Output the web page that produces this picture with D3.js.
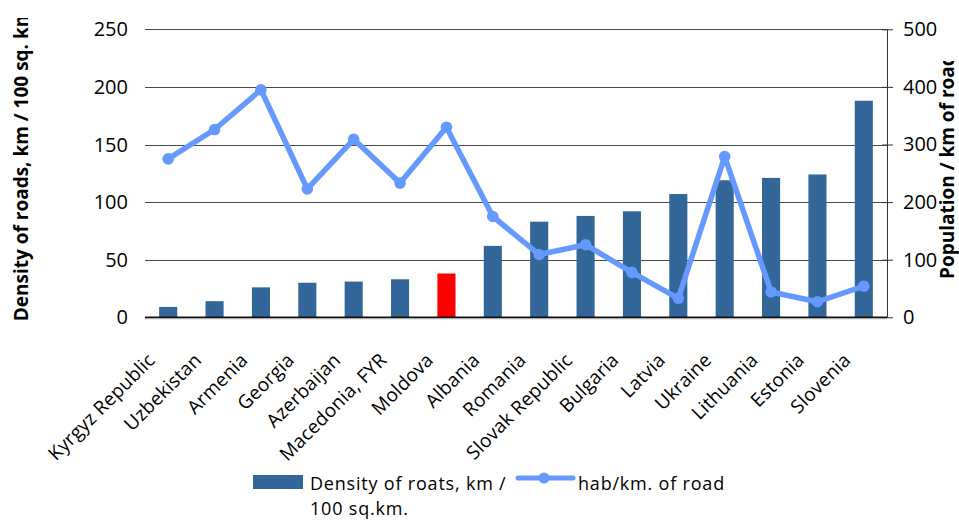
<!DOCTYPE html>
<html>
<head>
<meta charset="utf-8">
<script src="https://cdn.jsdelivr.net/npm/d3@7"></script>
<style>
  body { margin: 0; background: #fff; }
  svg { display: block; font-family: "Open Sans", sans-serif; }
</style>
</head>
<body>
<div id="container"></div>
<script>
const countries = ['Kyrgyz Republic', 'Uzbekistan', 'Armenia', 'Georgia', 'Azerbaijan',
  'Macedonia, FYR', 'Moldova', 'Albania', 'Romania', 'Slovak Republic', 'Bulgaria',
  'Latvia', 'Ukraine', 'Lithuania', 'Estonia', 'Slovenia']
const density = [9, 14, 26, 30, 31, 33, 38, 62, 83, 88, 92, 107, 119, 121, 124, 188]
const habPerKm = [275, 326, 395, 223, 309, 233, 330, 175, 109, 126, 78, 33, 279, 44, 27, 54]
const leftTicks = [0, 50, 100, 150, 200, 250]
const rightTicks = [0, 100, 200, 300, 400, 500]
const highlighted = 'Moldova'

const width = 959
const height = 520
const plotLeft = 145
const plotRight = 887
const plotTop = 29.3
const plotBottom = 317.3

const svg = d3.select('#container').append('svg')
  .attr('width', width)
  .attr('height', height)

const x = d3.scaleBand()
  .domain(countries)
  .range([plotLeft, plotRight])
  .paddingInner(0.61)
  .paddingOuter(0.305)

const xc = d => x(d) + x.bandwidth() / 2

const yL = d3.scaleLinear().domain([0, 250]).range([plotBottom, plotTop])
const yR = d3.scaleLinear().domain([0, 500]).range([plotBottom, plotTop])

// gridlines
svg.append('g')
  .selectAll('line')
  .data(leftTicks.filter(t => t > 0))
  .enter()
  .append('line')
  .attr('x1', plotLeft)
  .attr('x2', plotRight)
  .attr('y1', d => Math.round(yL(d)) + 0.5)
  .attr('y2', d => Math.round(yL(d)) + 0.5)
  .attr('stroke', '#4a4a4a')
  .attr('stroke-width', 1)

// left tick labels
svg.append('g')
  .selectAll('text')
  .data(leftTicks)
  .enter()
  .append('text')
  .attr('x', 128)
  .attr('y', d => yL(d))
  .attr('dy', '0.35em')
  .attr('text-anchor', 'end')
  .attr('font-size', 20)
  .attr('fill', '#000')
  .text(d => d)

// right axis
const axisR = d3.axisRight(yR).tickValues(rightTicks).tickSize(6).tickPadding(10)
const gR = svg.append('g')
  .attr('transform', `translate(${plotRight},0)`)
  .call(axisR)
gR.select('.domain').attr('stroke', '#333').attr('d', `M0.5,${plotTop}V${plotBottom}`)
gR.selectAll('.tick line').attr('x1', -5).attr('stroke', '#333')
gR.selectAll('.tick text').attr('font-size', 20).attr('font-family', '"Open Sans", sans-serif').attr('fill', '#000')

// bars
svg.append('g')
  .selectAll('rect')
  .data(countries)
  .enter()
  .append('rect')
  .attr('x', d => x(d))
  .attr('y', (d, i) => yL(density[i]))
  .attr('width', x.bandwidth())
  .attr('height', (d, i) => plotBottom - yL(density[i]))
  .attr('fill', d => d === highlighted ? '#ff0000' : '#336699')

// baseline
svg.append('line')
  .attr('x1', plotLeft)
  .attr('x2', plotRight)
  .attr('y1', plotBottom + 1)
  .attr('y2', plotBottom + 1)
  .attr('stroke', '#aaa')
  .attr('stroke-width', 2)
svg.append('line')
  .attr('x1', plotLeft)
  .attr('x2', plotRight)
  .attr('y1', plotBottom)
  .attr('y2', plotBottom)
  .attr('stroke', '#111')
  .attr('stroke-width', 1.6)

// line series
const line = d3.line()
  .x(d => xc(d.c))
  .y(d => yR(d.v))
const pts = countries.map((c, i) => ({ c: c, v: habPerKm[i] }))

svg.append('path')
  .datum(pts)
  .attr('d', line)
  .attr('fill', 'none')
  .attr('stroke', '#6699ff')
  .attr('stroke-width', 5.5)
  .attr('stroke-linejoin', 'round')

svg.append('g')
  .selectAll('circle')
  .data(pts)
  .enter()
  .append('circle')
  .attr('cx', d => xc(d.c))
  .attr('cy', d => yR(d.v))
  .attr('r', 5.8)
  .attr('fill', '#6699ff')

// x labels
svg.append('g')
  .selectAll('text')
  .data(countries)
  .enter()
  .append('text')
  .attr('transform', d => `translate(${xc(d) - 12},${plotBottom + 44}) rotate(-45)`)
  .attr('text-anchor', 'end')
  .attr('font-size', 19)
  .attr('letter-spacing', 0.2)
  .attr('fill', '#000')
  .text(d => d)

// axis titles (clipped like the original)
const defs = svg.append('defs')
defs.append('clipPath').attr('id', 'clipL')
  .append('rect').attr('x', 0).attr('y', 18).attr('width', 60).attr('height', 400)
defs.append('clipPath').attr('id', 'clipR')
  .append('rect').attr('x', 900).attr('y', 61).attr('width', 59).attr('height', 400)

svg.append('g').attr('clip-path', 'url(#clipL)')
  .append('text')
  .attr('transform', `translate(28,${plotBottom + 4}) rotate(-90)`)
  .attr('font-size', 19)
  .attr('font-weight', 'bold')
  .attr('fill', '#000')
  .text('Density of roads, km / 100 sq. km')

svg.append('g').attr('clip-path', 'url(#clipR)')
  .append('text')
  .attr('transform', `translate(954,279) rotate(-90)`)
  .attr('font-size', 19)
  .attr('font-weight', 'bold')
  .attr('fill', '#000')
  .text('Population / km of road')

// legend
const lg = svg.append('g').attr('font-size', 18).attr('letter-spacing', 0.8).attr('fill', '#000')
lg.append('rect')
  .attr('x', 253).attr('y', 475).attr('width', 50).attr('height', 14)
  .attr('fill', '#336699')
lg.append('text').attr('x', 310).attr('y', 490).text('Density of roats, km /')
lg.append('text').attr('x', 310).attr('y', 515).text('100 sq.km.')
lg.append('line')
  .attr('x1', 518).attr('x2', 573).attr('y1', 478).attr('y2', 478)
  .attr('stroke', '#6699ff').attr('stroke-width', 5).attr('stroke-linecap', 'round')
lg.append('circle').attr('cx', 544).attr('cy', 478).attr('r', 5.5).attr('fill', '#6699ff')
lg.append('text').attr('x', 578).attr('y', 490).text('hab/km. of road')
</script>
</body>
</html>
